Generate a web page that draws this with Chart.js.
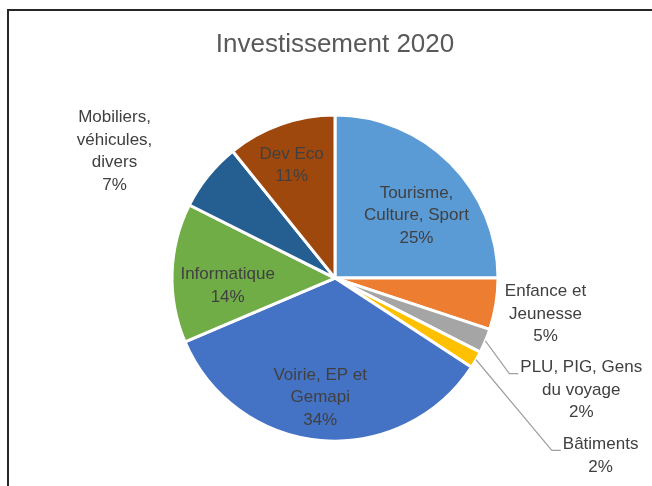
<!DOCTYPE html>
<html>
<head>
<meta charset="utf-8">
<script src="https://cdn.jsdelivr.net/npm/chart.js@4"></script>
<style>
  html, body { margin: 0; padding: 0; background: #fff; }
  #wrap { position: relative; width: 652px; height: 486px; overflow: hidden; }
  #frame { position: absolute; left: 7px; top: 9px; width: 700px; height: 520px;
           border-top: 2px solid #262626; border-left: 2px solid #262626; }
  canvas { position: absolute; left: 0; top: 0; }
</style>
</head>
<body>
<div id="wrap">
  <div id="frame"></div>
  <canvas id="chart" width="652" height="486"></canvas>
</div>
<script>
// données (parts en %)
var categories = [
  ['Tourisme,', 'Culture, Sport'],
  ['Enfance et', 'Jeunesse'],
  ['PLU, PIG, Gens', 'du voyage'],
  ['Bâtiments'],
  ['Voirie, EP et', 'Gemapi'],
  ['Informatique'],
  ['Mobiliers,', 'véhicules,', 'divers'],
  ['Dev Eco']
];
var values = [25.0, 5.1, 2.4, 1.7, 34.4, 13.8, 6.8, 10.8];
var colors = ['#5B9BD5', '#ED7D31', '#A5A5A5', '#FFC000', '#4472C4', '#70AD47', '#255E91', '#9E480E'];

// placement des étiquettes : f = distance / rayon, d = décalage d'angle (degrés)
var labelPlace = [
  { f: 0.63, d: 7.5 },
  { f: 1.31, d: 0.5 },
  { f: 1.66, d: 1.8, leader: true },
  { f: 1.96, d: 3.7, leader: true },
  { f: 0.74, d: 2 },
  { f: 0.66, d: -5.8 },
  { f: 1.56, d: -9 },
  { f: 0.74, d: -1.6 }
];

var FONT = '"Liberation Sans", Arial, sans-serif';

// étiquettes de données façon Excel
var pieLabels = {
  id: 'pieLabels',
  afterDatasetsDraw: function(chart) {
    var ctx = chart.ctx;
    var meta = chart.getDatasetMeta(0);
    var data = chart.data.datasets[0].data;
    var total = data.reduce(function(a, b) { return a + b; }, 0);
    var lh = 22.5;
    ctx.save();
    ctx.font = '17px ' + FONT;
    ctx.textAlign = 'center';
    ctx.textBaseline = 'middle';
    meta.data.forEach(function(arc, i) {
      var p = labelPlace[i];
      var mid = (arc.startAngle + arc.endAngle) / 2;
      var a = mid + p.d * Math.PI / 180;
      var cx = arc.x + Math.cos(a) * arc.outerRadius * p.f;
      var cy = arc.y + Math.sin(a) * arc.outerRadius * p.f;
      var lines = chart.data.labels[i].concat([Math.round(data[i] / total * 100) + '%']);
      var y0 = cy - (lines.length - 1) * lh / 2;
      if (p.leader) {
        var w = 0;
        lines.forEach(function(t) { w = Math.max(w, ctx.measureText(t).width); });
        var left = cx - w / 2;
        var ly = y0 + 6;
        ctx.strokeStyle = '#A0A0A0';
        ctx.lineWidth = 1.2;
        ctx.beginPath();
        ctx.moveTo(arc.x + Math.cos(mid) * arc.outerRadius, arc.y + Math.sin(mid) * arc.outerRadius);
        ctx.lineTo(left - 11, ly);
        ctx.lineTo(left - 2, ly);
        ctx.stroke();
      }
      ctx.fillStyle = '#404040';
      lines.forEach(function(t, k) {
        ctx.fillText(t, cx, y0 + k * lh);
      });
    });
    ctx.restore();
  }
};

var ctx = document.getElementById('chart').getContext('2d');
var chart = new Chart(ctx, {
  type: 'pie',
  data: {
    labels: categories,
    datasets: [{
      data: values,
      backgroundColor: colors,
      borderColor: '#ffffff',
      borderWidth: 3
    }]
  },
  options: {
    responsive: false,
    animation: false,
    radius: 163,
    layout: { padding: { left: 18, right: 0, top: 0, bottom: 0 } },
    plugins: {
      legend: { display: false },
      tooltip: { enabled: false },
      title: {
        display: true,
        text: 'Investissement 2020',
        color: '#595959',
        font: { family: FONT, size: 26, weight: 'normal', lineHeight: 1.2 },
        padding: { top: 29, bottom: 10 }
      }
    }
  },
  plugins: [pieLabels]
});
</script>
</body>
</html>
